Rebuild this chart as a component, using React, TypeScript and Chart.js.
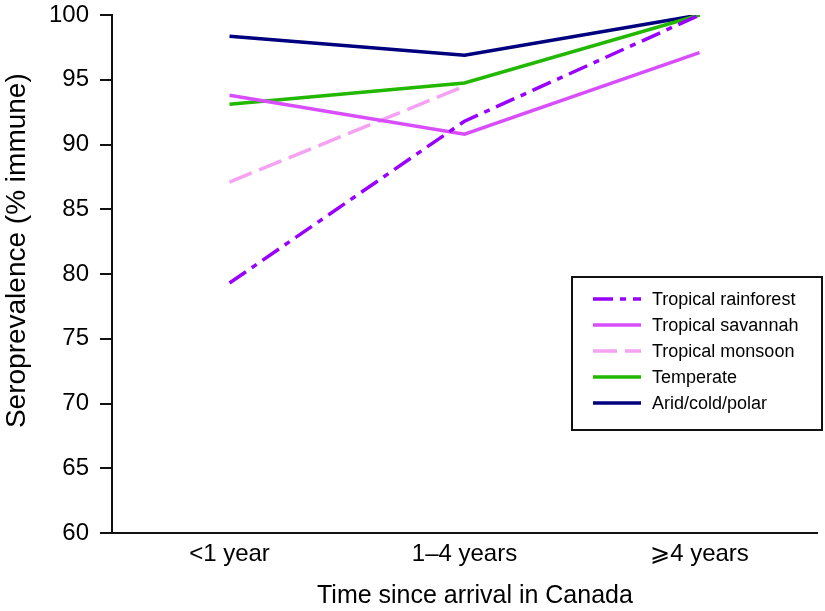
import React, { useEffect, useRef } from "react";
import { Chart, registerables } from "chart.js";

Chart.register(...registerables);

const categories = ["<1 year", "1–4 years", "⩾4 years"];
const seriesNames = ["Tropical rainforest", "Tropical savannah", "Tropical monsoon", "Temperate", "Arid/cold/polar"];
const rainforest = [79.3, 91.8, 100];
const savannah = [93.8, 90.8, 97.1];
const monsoon = [87.1, 94.5, null];
const temperate = [93.1, 94.75, 100];
const arid = [98.35, 96.9, 100];
const yTickValues = [60, 65, 70, 75, 80, 85, 90, 95, 100];

const FONT = "'Liberation Sans', Arial, Helvetica, sans-serif";

const insideLegend = {
  id: "insideLegend",
  afterDraw(chart: any) {
    const ctx = chart.ctx;
    const bx = 572, by = 277, bw = 250, bh = 153;
    ctx.save();
    ctx.fillStyle = "#ffffff";
    ctx.fillRect(bx, by, bw, bh);
    ctx.strokeStyle = "#111";
    ctx.lineWidth = 2;
    ctx.setLineDash([]);
    ctx.strokeRect(bx, by, bw, bh);
    chart.data.datasets.forEach((ds: any, i: number) => {
      const y = 299 + i * 26;
      ctx.beginPath();
      ctx.strokeStyle = ds.borderColor;
      ctx.lineWidth = ds.borderWidth;
      ctx.setLineDash(ds.borderDash || []);
      ctx.moveTo(593, y);
      ctx.lineTo(641, y);
      ctx.stroke();
      ctx.setLineDash([]);
      ctx.fillStyle = "#000";
      ctx.font = `18px ${FONT}`;
      ctx.textAlign = "left";
      ctx.textBaseline = "middle";
      ctx.fillText(ds.label, 652, y + 1);
    });
    ctx.restore();
  },
};

export default function App() {
  const canvasRef = useRef<HTMLCanvasElement | null>(null);

  useEffect(() => {
    const canvas = canvasRef.current;
    if (!canvas) return;
    const colors = ["#9a00ff", "#d84eff", "#f5a2f3", "#22b800", "#00007f"];
    const dashes = [[20, 7, 6, 7], [], [24, 8], [], []];
    const values = [rainforest, savannah, monsoon, temperate, arid];
    const chart = new Chart(canvas, {
      type: "line",
      data: {
        labels: categories,
        datasets: values.map((v, i) => ({
          label: seriesNames[i],
          data: v,
          borderColor: colors[i],
          backgroundColor: colors[i],
          borderWidth: 3.5,
          borderDash: dashes[i],
          pointRadius: 0,
          fill: false,
          tension: 0,
        })),
      },
      options: {
        responsive: false,
        animation: false,
        layout: { padding: { top: 15, right: 8, left: 0, bottom: 0 } },
        plugins: {
          legend: { display: false },
          tooltip: { enabled: false },
        },
        scales: {
          x: {
            offset: true,
            grid: { display: false, drawTicks: false },
            border: { display: true, color: "#111", width: 2 },
            ticks: {
              color: "#000",
              padding: 7,
              font: { family: FONT, size: 24 },
              maxRotation: 0,
            },
            title: {
              display: true,
              text: "   Time since arrival in Canada",
              color: "#000",
              font: { family: FONT, size: 25 },
              padding: { top: 0, bottom: 0 },
            },
            afterFit(scale: any) {
              scale.height = 78;
              scale.paddingLeft = 0;
              scale.paddingRight = 0;
            },
          },
          y: {
            min: 60,
            max: 100,
            afterBuildTicks(scale: any) {
              scale.ticks = yTickValues.map((v) => ({ value: v }));
            },
            grid: {
              drawOnChartArea: false,
              drawTicks: true,
              tickLength: 12,
              color: "#111",
              lineWidth: 2,
            },
            border: { display: true, color: "#111", width: 2 },
            ticks: {
              color: "#000",
              padding: 11,
              font: { family: FONT, size: 24 },
            },
            title: {
              display: true,
              text: "      Seroprevalence (% immune)",
              color: "#000",
              font: { family: FONT, size: 28 },
              padding: { top: 0, bottom: 0 },
            },
            afterFit(scale: any) {
              scale.width = 112;
              scale.paddingTop = 0;
              scale.paddingBottom = 0;
            },
          },
        },
      },
      plugins: [insideLegend],
    });
    return () => chart.destroy();
  }, []);

  return (
    <div style={{ position: "absolute", left: 0, top: 0, width: 825, height: 611, background: "#fff" }}>
      <canvas ref={canvasRef} width={825} height={611} style={{ display: "block" }} />
    </div>
  );
}
